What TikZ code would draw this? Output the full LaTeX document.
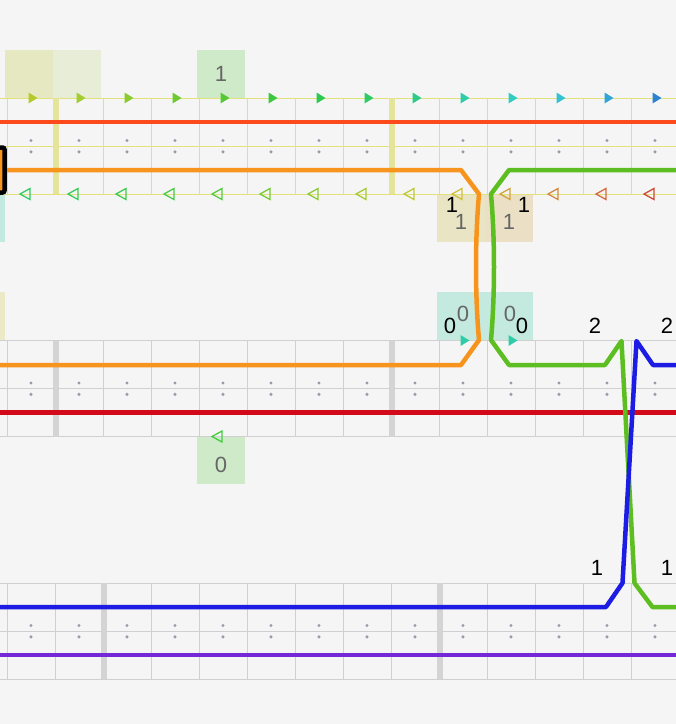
\documentclass[tikz,border=0pt]{standalone}
\usepackage{fontspec}
\setmainfont{Liberation Sans}
\definecolor{bg}{HTML}{F5F5F5}
\definecolor{ygrid}{HTML}{E2E27C}
\definecolor{yhilite}{HTML}{E4E49A}
\definecolor{ggrid}{HTML}{D0D0D0}
\definecolor{ghilite}{HTML}{D4D4D4}
\definecolor{dotc}{HTML}{9A9AAA}
\definecolor{lred}{HTML}{FC4A1C}
\definecolor{dred}{HTML}{D20A1A}
\definecolor{lorange}{HTML}{F7941E}
\definecolor{lgreen}{HTML}{5CBE20}
\definecolor{lblue}{HTML}{1C1CE4}
\definecolor{lpurple}{HTML}{7428D8}
\definecolor{txtgray}{HTML}{666666}
\definecolor{boxA}{HTML}{E6E8C2}
\definecolor{boxB}{HTML}{E8EDD8}
\definecolor{boxG}{HTML}{CEEAC8}
\definecolor{boxT}{HTML}{C4EADF}
\definecolor{boxTanA}{HTML}{E9E5C4}
\definecolor{boxTanB}{HTML}{EBE0C6}
\definecolor{boxTanL}{HTML}{ECE9C6}
\definecolor{tealtri}{HTML}{2ECCA8}
\definecolor{greentri}{HTML}{44CC44}
\tikzset{
  track/.style={line width=4.5pt},
  gridline/.style={line width=0.9pt},
  lab/.style={font=\fontsize{22}{22}\selectfont, inner sep=0pt},
  blab/.style={lab, text=black},
  glab/.style={lab, text=txtgray},
  hollowtri/.style={draw=#1, line width=1.3pt, line join=miter}
}
\newcommand{\rtri}[3]{\fill[#3] (#1-4.5,#2-5.5) -- (#1+4.5,#2) -- (#1-4.5,#2+5.5) -- cycle;}
\newcommand{\ltri}[3]{\draw[hollowtri=#3] (#1+5,#2-5.5) -- (#1-5,#2) -- (#1+5,#2+5.5) -- cycle;}
\newcommand{\trackgrid}[2]{%
  \foreach \yy in {0,48,96} \draw[#2, gridline] (0,#1+\yy) -- (676,#1+\yy);
  \foreach \xx in {7,55,...,679} \draw[#2, gridline] (\xx,#1) -- (\xx,#1+96);
  \foreach \xx in {31,79,...,655} {
    \fill[dotc] (\xx,#1+42.5) circle (1.7);
    \fill[dotc] (\xx,#1+53.8) circle (1.7);
  }
}
\begin{document}
\begin{tikzpicture}[x=1pt,y=-1pt]
\fill[bg] (0,0) rectangle (676,724);
\useasboundingbox (0,0) rectangle (676,724);
% highlight boxes
\fill[boxA] (5,50) rectangle (53,98);
\fill[boxB] (53,50) rectangle (101,98);
\fill[boxG] (197,50) rectangle (245,98);
\fill[boxT] (0,194) rectangle (5,242);
\fill[boxTanA] (437,194) rectangle (485,242);
\fill[boxTanB] (485,194) rectangle (533,242);
\fill[boxTanL] (0,292) rectangle (5,340);
\fill[boxT] (437,292) rectangle (485,340);
\fill[boxT] (485,292) rectangle (533,340);
\fill[boxG] (197,436) rectangle (245,484);
% grids
\trackgrid{98}{ygrid}
\trackgrid{340.5}{ggrid}
\trackgrid{583}{ggrid}
% highlighted bars
\fill[yhilite] (52.5,98) rectangle (58.5,194);
\fill[yhilite] (388.5,98) rectangle (394.5,194);
\fill[ghilite] (52.5,340.5) rectangle (58.5,436.5);
\fill[ghilite] (388.5,340.5) rectangle (394.5,436.5);
\fill[ghilite] (100.5,583) rectangle (106.5,679);
\fill[ghilite] (436.5,583) rectangle (442.5,679);
% top filled triangles
\foreach \k/\c in {0/B5C92A,1/A3CC2E,2/8ACC30,3/6FC930,4/55C835,5/3AC83F,6/2DC84F,7/2CCB68,8/2DCB88,9/2ECCA8,10/32CCC2,11/32C2D4,12/30A5D6,13/2E82D2}{
  \definecolor{tc}{HTML}{\c}
  \pgfmathsetmacro{\cx}{33+48*\k}
  \rtri{\cx}{98}{tc}
}
% bottom hollow triangles
\foreach \k/\c in {0/33CC66,1/38CC5A,2/3ECC50,3/48CC48,4/55CC40,5/76CC35,6/8ECC33,7/A6CC33,8/BECA35,9/D2C03C,10/D4A33E,11/D48A40,12/D46A3E,13/D04A34}{
  \definecolor{tc}{HTML}{\c}
  \pgfmathsetmacro{\cx}{25+48*\k}
  \ltri{\cx}{194}{tc}
}
\rtri{465}{340.5}{tealtri}
\rtri{513}{340.5}{tealtri}
\ltri{217}{436.5}{greentri}
% tracks
\draw[track, lred] (0,122) -- (676,122);
\draw[track, dred] (0,412.5) -- (676,412.5);
\draw[track, lpurple] (0,655) -- (676,655);
\draw[track, lorange, line join=round] (5,170) -- (461,170) -- (479,194)
   .. controls (475,240) and (475,294) .. (479,340) -- (461,365) -- (0,365);
\draw[track, lgreen, line join=round] (676,170) -- (509,170) -- (491,194)
   .. controls (495,240) and (495,294) .. (491,340) -- (509,365) -- (605,365)
   -- (621.5,341) -- (634.5,583) -- (652.5,607) -- (676,607);
\draw[track, lblue, line join=round] (0,607) -- (606,607) -- (622.5,583)
   -- (636.5,341) -- (653,365) -- (676,365);
% end marker
\draw[line width=4.5pt, fill=lorange, rounded corners=2pt] (-6,147.5) rectangle (4.5,192.5);
% labels
\node[glab] (g1top) at (221,74) {1};
\node[blab] (b1a) at (452,205) {1};
\node[glab] (g1a) at (461,222) {1};
\node[glab] (g1b) at (509,222) {1};
\node[blab] (b1b) at (524,205) {1};
\node[blab] (b0a) at (450,326) {0};
\node[glab] (g0a) at (463,314) {0};
\node[glab] (g0b) at (510,314) {0};
\node[blab] (b0b) at (522,326) {0};
\node[blab] (b2a) at (595,326) {2};
\node[blab] (b2b) at (667,326) {2};
\node[blab] (b1c) at (597,568) {1};
\node[blab] (b1d) at (667,568) {1};
\node[glab] (g0c) at (221,465) {0};
\end{tikzpicture}
\end{document}
